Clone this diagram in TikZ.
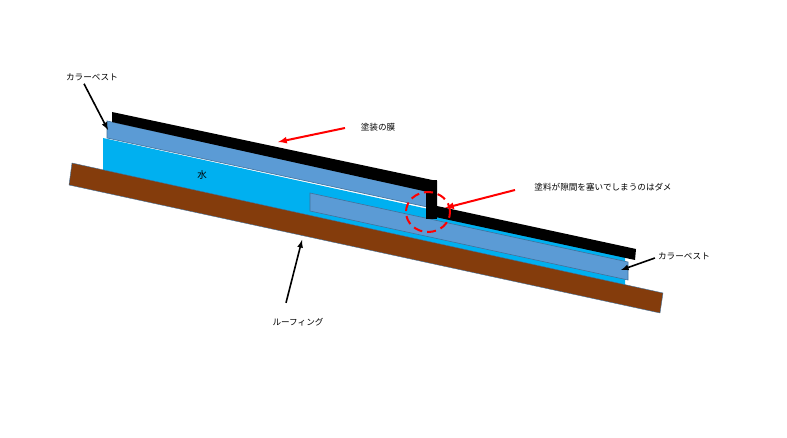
\documentclass[tikz,border=0pt]{standalone}
\usepackage{fontspec}
\usetikzlibrary{shapes.geometric}
\newfontfamily\jp{Noto Sans CJK JP}
\begin{document}
\begin{tikzpicture}[x=1pt,y=-1pt,
  lbl/.style={font=\jp\fontsize{8.6}{10}\selectfont,inner sep=1pt},
  slate/.style={fill=slateblue,draw=slateedge,line width=0.6pt},
  redarr/.style={draw=red,line width=2pt,-latex},
  blkarr/.style={draw=black,line width=1.6pt,-latex}]
\definecolor{slateblue}{HTML}{5B9BD5}
\definecolor{slateedge}{HTML}{41719C}
\definecolor{water}{HTML}{00B0F0}
\definecolor{roof}{HTML}{843C0C}
\useasboundingbox (0,0) rectangle (787,438);
% water
\fill[water] (103,138) -- (625,252) -- (625,292) -- (103,176) -- cycle;
% roofing
\draw[fill=roof,draw=slateedge] (72,163) -- (663,293) -- (660,313) -- (69,185) -- cycle;
% upper slate
\draw[slate] (107,121) -- (432,191) -- (432,208) -- (107,138) -- cycle;
% lower slate
\draw[slate] (310,193) -- (628,262) -- (628,280) -- (310,211) -- cycle;
% paint film
\fill[black] (112,112) -- (437,181) -- (437,206) -- (636,249) -- (635,260) -- (426,215) -- (428,192) -- (112,122) -- cycle;
\fill[black] (426,180) rectangle (437,219);
% dashed circle
\node[draw=red,line width=2pt,ellipse,minimum width=44pt,minimum height=40pt,inner sep=0pt,dash pattern=on 9pt off 5pt] (circ) at (428,212) {};
% labels
\node[lbl] (lkc) at (92,77) {カラーベスト};
\node[lbl] (lfilm) at (378,127) {塗装の膜};
\node[lbl] (lbad) at (603,187) {塗料が隙間を塞いでしまうのはダメ};
\node[lbl] (rkc) at (684,256) {カラーベスト};
\node[lbl] (lroof) at (298,322) {ルーフィング};
\node[lbl,font=\jp\fontsize{9.5}{10}\selectfont] (water) at (202,175) {水};
\coordinate (t1) at (108,130);
\coordinate (t2) at (278,142);
\coordinate (t3) at (445,208);
\coordinate (t4) at (621,270);
\coordinate (t5) at (302,240);
\draw[blkarr] (lkc.south) ++(-8,2) -- (t1);
\draw[redarr] (345,128) -- (t2);
\draw[redarr] (515,190) -- (t3);
\draw[blkarr] (rkc.west) ++(-2,2) -- (t4);
\draw[blkarr] (lroof.north) ++(-12,-14) -- (t5);
\end{tikzpicture}
\end{document}
